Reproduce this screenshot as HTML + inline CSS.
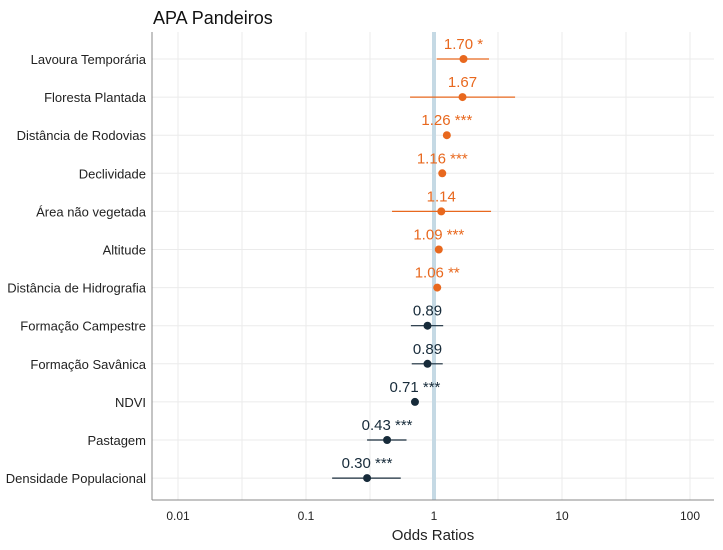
<!DOCTYPE html>
<html><head><meta charset="utf-8"><style>body{margin:0;background:#fff}svg{display:block;font-family:"Liberation Sans",sans-serif}</style></head>
<body>
<svg id="c" width="723" height="550">
<text x="153" y="24" font-size="18" fill="#111">APA Pandeiros</text>
<text x="433" y="540" font-size="15" fill="#222" text-anchor="middle">Odds Ratios</text>
</svg>
<script>
const terms=["Lavoura Temporária","Floresta Plantada","Distância de Rodovias","Declividade","Área não vegetada","Altitude","Distância de Hidrografia","Formação Campestre","Formação Savânica","NDVI","Pastagem","Densidade Populacional"];
const estimates=[1.70,1.67,1.26,1.16,1.14,1.09,1.06,0.89,0.89,0.71,0.43,0.30];
const ciLow=[1.05,0.65,1.2,1.11,0.47,1.06,1.03,0.66,0.67,0.69,0.30,0.16];
const ciHigh=[2.69,4.3,1.33,1.22,2.79,1.12,1.09,1.18,1.17,0.73,0.61,0.55];
const stars=["*","","***","***","","***","**","","","***","***","***"];
const tickVals=[0.01,0.1,1,10,100];
const tickLabels=["0.01","0.1","1","10","100"];
const svg=document.getElementById('c');const NS='http://www.w3.org/2000/svg';
const L=152,R=714,T=32,B=500;
const x=v=>434+128*Math.log10(v);
const y=i=>59+i*38.1;
function el(t,a,p){const e=document.createElementNS(NS,t);for(const k in a)e.setAttribute(k,a[k]);(p||svg).appendChild(e);return e;}
const g=el('g',{});
for(let d=-2;d<=2;d+=0.5){const gl=el('line',{x1:x(Math.pow(10,d)),x2:x(Math.pow(10,d)),y1:T,y2:B,stroke:'#ebebeb','stroke-width':1},g);

}
terms.forEach((t,i)=>{const gl=el('line',{x1:L,x2:R,y1:y(i),y2:y(i),stroke:'#ebebeb'},g);


const lb=el('text',{x:146,y:y(i)+5,'font-size':13,fill:'#222','text-anchor':'end'});lb.textContent=t;

});
const ref=el('line',{x1:x(1),x2:x(1),y1:T,y2:B,stroke:'#c5d9e4','stroke-width':4});


const ax=el('line',{x1:L,x2:R,y1:B,y2:B,stroke:'#888'});


const ay=el('line',{x1:L,x2:L,y1:T,y2:B,stroke:'#888'});


tickVals.forEach((v,i)=>{const tl=el('text',{x:x(v),y:520,'font-size':12,fill:'#222','text-anchor':'middle'});tl.textContent=tickLabels[i];

});
estimates.forEach((v,i)=>{const c=v>1?'#e8681e':'#172b3a';
const ci=el('line',{x1:x(ciLow[i]),x2:x(ciHigh[i]),y1:y(i),y2:y(i),stroke:c,'stroke-width':1.2});


const p=el('circle',{cx:x(v),cy:y(i),r:4,fill:c});


const lb=el('text',{x:x(v),y:y(i)-10,'font-size':15,fill:c,'text-anchor':'middle'});lb.textContent=v.toFixed(2)+(stars[i]?' '+stars[i]:'');

});
</script>
</body></html>
